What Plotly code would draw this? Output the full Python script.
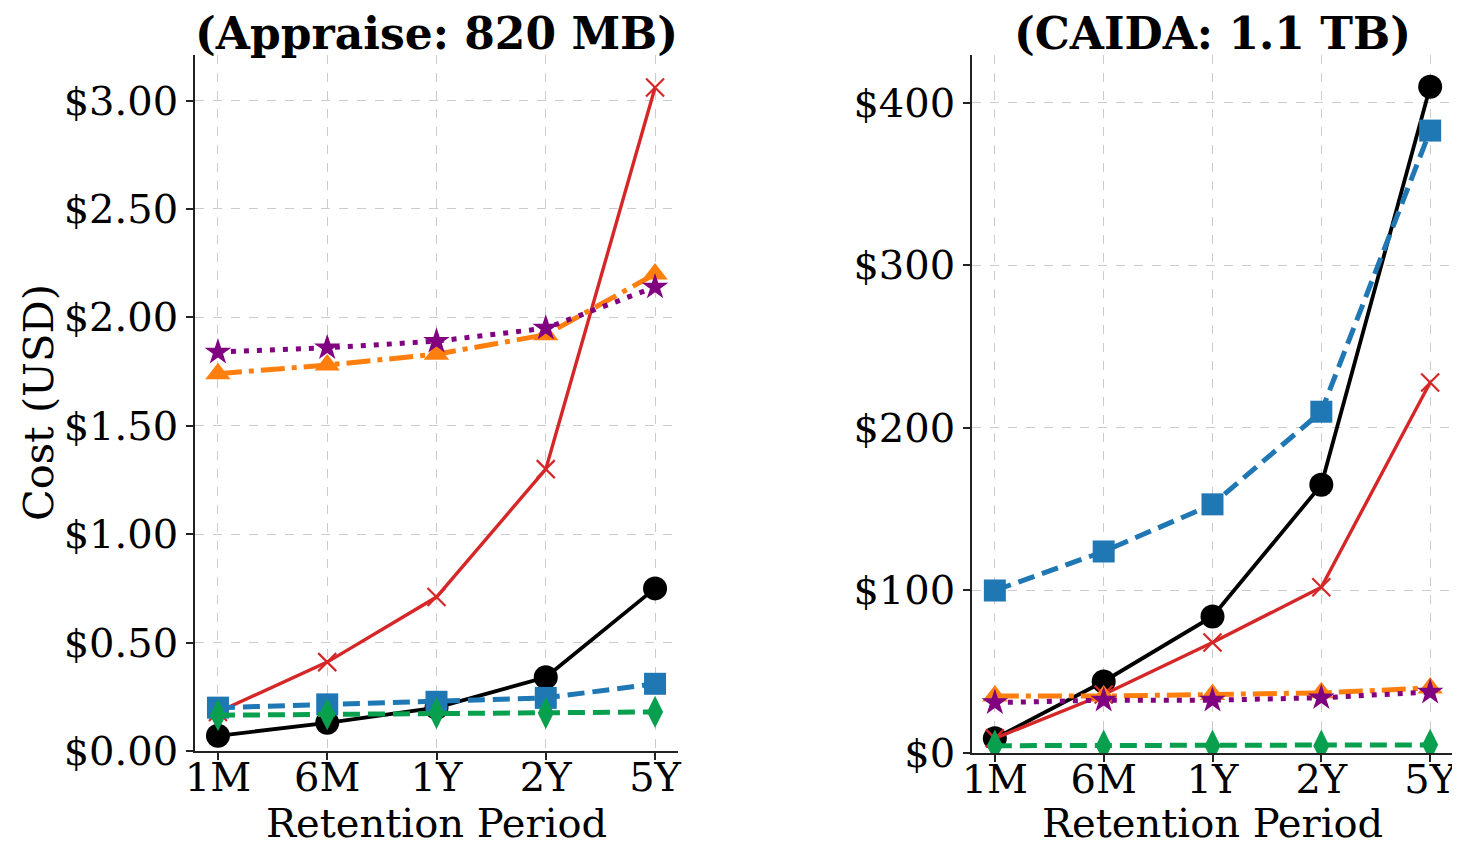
import plotly.graph_objects as go

periods = ["1M", "6M", "1Y", "2Y", "5Y"]

# Left panel: Appraise (820 MB)
app_black = [0.07, 0.13, 0.20, 0.34, 0.75]
app_red = [0.18, 0.41, 0.71, 1.30, 3.06]
app_blue = [0.20, 0.215, 0.227, 0.245, 0.31]
app_green = [0.165, 0.17, 0.175, 0.175, 0.18]
app_orange = [1.74, 1.78, 1.83, 1.92, 2.20]
app_purple = [1.84, 1.86, 1.89, 1.95, 2.14]

# Right panel: CAIDA (1.1 TB)
cai_black = [9, 44, 84, 165, 410]
cai_red = [9, 36, 68, 102, 228]
cai_blue = [100, 124, 153, 210, 383]
cai_green = [4.5, 4.5, 4.5, 4.5, 5]
cai_orange = [35, 35, 36, 37, 40]
cai_purple = [31, 32.5, 32.5, 34, 37.5]

titles = ["(Appraise: 820 MB)", "(CAIDA: 1.1 TB)"]
x_title = "Retention Period"
y_title = "Cost (USD)"

FONT = "DejaVu Serif"
FS = 40
FS_X = 40
FS_T = 41.5
FS_H = 44

# page body margin offset (8px) compensation
OFF = 8
W, H = 1460 - OFF, 847 - OFF


def px(x):
    return (x - OFF) / W


def py(y):
    return 1 - (y - OFF) / H


styles = {
    "black": dict(color="black", dash="solid", width=3.8, symbol="circle", size=24),
    "red": dict(color="#d62728", dash="solid", width=3.4, symbol="x-thin", size=18),
    "blue": dict(color="#1f77b4", dash="17px,8px", width=5, symbol="square", size=22),
    "green": dict(color="#08a04e", dash="17px,8px", width=5, symbol="diamond-tall", size=23),
    "orange": dict(color="#ff7f0e", dash="24px,7px,5px,7px", width=5, symbol="triangle-up", size=22),
    "purple": dict(color="purple", dash="5px,8px", width=5, symbol="star", size=20),
}

fig = go.Figure()

panels = [
    ("x", "y", dict(black=app_black, red=app_red, blue=app_blue, green=app_green,
                    orange=app_orange, purple=app_purple)),
    ("x2", "y2", dict(black=cai_black, red=cai_red, blue=cai_blue, green=cai_green,
                      orange=cai_orange, purple=cai_purple)),
]

for xa, ya, data in panels:
    for key in ["black", "red", "blue", "green", "orange", "purple"]:
        s = styles[key]
        marker = dict(symbol=s["symbol"], size=s["size"], color=s["color"])
        if s["symbol"] == "x-thin":
            marker["line"] = dict(color=s["color"], width=2.2)
        else:
            marker["line"] = dict(width=0)
        fig.add_trace(go.Scatter(
            x=periods, y=data[key], mode="lines+markers",
            line=dict(color=s["color"], width=s["width"], dash=s["dash"]),
            marker=marker, xaxis=xa, yaxis=ya, showlegend=False,
        ))

axis_common = dict(
    showline=True, linecolor="#222222", linewidth=1.6,
    ticks="outside", ticklen=7, tickwidth=1.6, tickcolor="#222222",
    showgrid=True, gridcolor="#cccccc", gridwidth=1, griddash="dash",
    zeroline=False, mirror=False, automargin=False,
    tickfont=dict(family=FONT, size=FS, color="black"),
)

fig.update_layout(
    width=W, height=H,
    margin=dict(l=0, r=0, t=0, b=0, autoexpand=False),
    paper_bgcolor="white", plot_bgcolor="white",
    font=dict(family=FONT, size=FS, color="black"),
    xaxis=dict(domain=[px(195), px(678)], type="category", range=[-0.21, 4.21],
               anchor="y", ticklabelstandoff=-17, **axis_common),
    yaxis=dict(domain=[py(751), py(55)], range=[0, 3.21], dtick=0.5,
               tickprefix="$", tickformat=".2f", anchor="x",
               **axis_common),
    xaxis2=dict(domain=[px(972), px(1453)], type="category", range=[-0.21, 4.21],
                anchor="y2", ticklabelstandoff=-17, **axis_common),
    yaxis2=dict(domain=[py(753), py(55)], range=[0, 429.5], dtick=100,
                tickprefix="$", tickformat=".0f", anchor="x2",
                **axis_common),
)

for i, t in enumerate(titles):
    cx = [px((195 + 678) / 2), px((972 + 1453) / 2)][i]
    fig.add_annotation(
        text="<b>" + t + "</b>", x=cx, y=py(34), xref="paper", yref="paper",
        xanchor="center", yanchor="middle", showarrow=False, borderpad=0,
        font=dict(family=FONT, size=FS_H, color="black"),
    )
    fig.add_annotation(
        text=x_title, x=cx, y=py(823), xref="paper", yref="paper",
        xanchor="center", yanchor="middle", showarrow=False, borderpad=0,
        font=dict(family=FONT, size=FS_X, color="black"),
    )

fig.add_annotation(
    text=y_title, x=px(38), y=py(403), xref="paper", yref="paper",
    xanchor="center", yanchor="middle", textangle=-90, showarrow=False, borderpad=0,
    font=dict(family=FONT, size=FS_T, color="black"),
)

fig.write_html("out.html")
